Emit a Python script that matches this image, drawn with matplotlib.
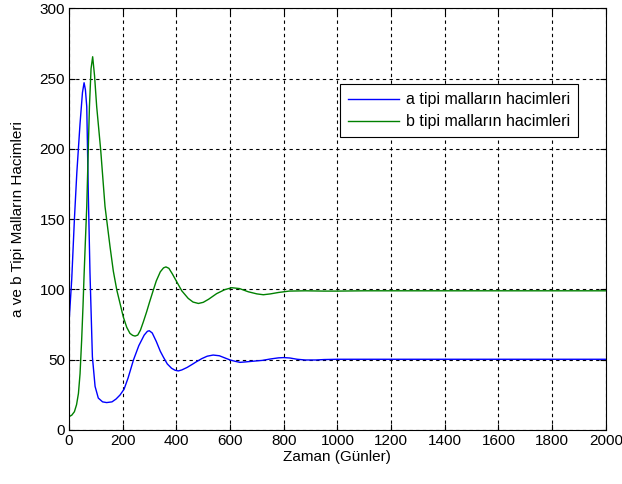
import matplotlib
matplotlib.use("Agg")
import matplotlib.pyplot as plt

# Data
t_a = [0, 5, 10, 20, 29, 41, 50, 56, 61, 66, 72, 78, 87, 97, 109, 125, 140, 160, 175, 190,
       205, 220, 240, 260, 280, 292, 299, 310, 325, 340, 351, 366, 382, 395, 407, 420, 440,
       460, 475, 495, 515, 537, 560, 580, 600, 620, 637, 662, 690, 720, 750, 780, 800, 823,
       850, 880, 920, 950, 1000, 1500, 2000]
a_vals = [77, 92, 107, 150, 183, 218, 240, 247, 242, 230, 166, 112, 52, 31, 22.7, 20, 19.5,
          20, 22, 24.9, 29, 37, 49.8, 60, 67.5, 70.2, 70.6, 69, 63, 56, 52, 47, 43.9, 42.5,
          42, 42.7, 44.5, 46.8, 48.6, 50.8, 52.5, 53.3, 52.8, 51.3, 49.8, 48.8, 48.1, 48.5,
          49, 49.5, 50.5, 51.3, 51.5, 51.2, 50.3, 49.8, 49.8, 50.1, 50.3, 50.3, 50.3]

t_b = [0, 10, 20, 28, 35, 41, 47, 52, 56, 61, 66, 71, 76, 82, 88, 95, 103, 118, 134, 153,
       165, 178, 190, 202, 215, 227, 237, 246, 256, 266, 277, 289, 300, 314, 325, 340, 352,
       361, 372, 385, 401, 420, 444, 462, 482, 500, 520, 550, 580, 606, 635, 668, 700, 724,
       750, 780, 820, 880, 950, 1000, 1100, 1500, 2000]
b_vals = [9.5, 10.5, 13, 18, 26, 40, 64, 88, 110, 135, 159, 195, 230, 257, 265.5, 252, 230,
          199, 159, 130, 113, 99.5, 90, 80.5, 73, 68.7, 67.3, 66.8, 67.5, 71, 77, 84, 91,
          99.5, 106, 112.5, 115.3, 116, 115, 111, 105.5, 99, 93.6, 91, 90, 90.8, 93, 97,
          99.8, 101.2, 100.6, 98.3, 96.8, 96.2, 96.8, 97.8, 98.8, 99, 98.8, 98.8, 99, 99, 99]

labels = ["a tipi malların hacimleri", "b tipi malların hacimleri"]
xticks = list(range(0, 2001, 200))
yticks = list(range(0, 301, 50))

plt.rcParams['font.family'] = ['Liberation Sans', 'DejaVu Sans']

fig = plt.figure(figsize=(6.22, 4.84), dpi=100)
ax = fig.add_axes([0.111, 0.1116, 0.863, 0.8714])

ax.plot(t_a, a_vals, color='#0000ff', lw=1.0, label=labels[0])
ax.plot(t_b, b_vals, color='#008000', lw=1.0, label=labels[1])

ax.set_xlim(0, 2000)
ax.set_ylim(0, 300)
ax.set_xticks(xticks)
ax.set_yticks(yticks)
ax.grid(True, color='black', linestyle=(0, (3, 3)), linewidth=0.8)
ax.tick_params(direction='in', top=True, right=True, labelsize=11, length=4, pad=3)
for s in ax.spines.values():
    s.set_linewidth(0.8)
    s.set_color('black')

ax.set_xlabel("Zaman (Günler)", fontsize=11, labelpad=1)
ax.set_ylabel("a ve b Tipi Malların Hacimleri", fontsize=11, labelpad=10)

leg = ax.legend(loc='upper right', bbox_to_anchor=(0.948, 0.82), fancybox=False,
                framealpha=1, edgecolor='black', fontsize=11.5, handlelength=3.2,
                handletextpad=0.4, borderaxespad=0, borderpad=0.5, labelspacing=0.45)
leg.get_frame().set_linewidth(0.8)

fig.savefig("out.png", dpi=100, facecolor='white')
